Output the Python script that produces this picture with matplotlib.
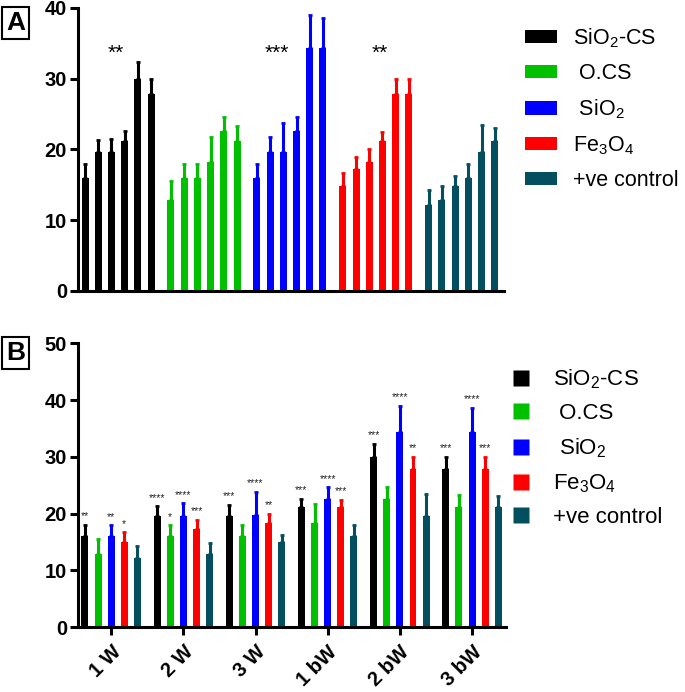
"""Two-panel grouped bar chart: per-material bars (A) and per-week groups (B)."""

import matplotlib

matplotlib.use("Agg")
import matplotlib.pyplot as plt
import numpy as np
from matplotlib.lines import Line2D
from matplotlib.patches import Patch

plt.rcParams["font.family"] = ["Liberation Sans", "DejaVu Sans"]
plt.rcParams["mathtext.default"] = "regular"

groups = ["1 W", "2 W", "3 W", "1 bW", "2 bW", "3 bW"]
series = ["SiO$_2$-CS", " O.CS", " SiO$_2$", "Fe$_3$O$_4$", "+ve control"]
colors = ["#000000", "#00c000", "#0000ff", "#ff0000", "#034e5f"]

sio2_cs_mean = [16.0, 19.6, 19.6, 21.2, 29.9, 27.9]
sio2_cs_err = [2.0, 1.7, 1.9, 1.4, 2.4, 2.1]
ocs_mean = [12.9, 16.0, 16.0, 18.3, 22.6, 21.2]
ocs_err = [2.6, 1.9, 2.0, 3.4, 2.0, 2.1]
sio2_mean = [16.0, 19.6, 19.7, 22.6, 34.3, 34.3]
sio2_err = [1.9, 2.2, 4.1, 2.0, 4.7, 4.3]
fe3o4_mean = [14.9, 17.2, 18.3, 21.2, 27.9, 27.9]
fe3o4_err = [1.8, 1.7, 1.7, 1.2, 2.1, 2.1]
ctrl_mean = [12.2, 12.9, 14.9, 16.0, 19.6, 21.2]
ctrl_err = [2.1, 1.9, 1.4, 2.0, 3.9, 1.9]

means = [sio2_cs_mean, ocs_mean, sio2_mean, fe3o4_mean, ctrl_mean]
errs = [sio2_cs_err, ocs_err, sio2_err, fe3o4_err, ctrl_err]

# significance marks in panel B, one list per series (per week group)
stars_b = [
    ["**", "****", "***", "***", "***", "***"],
    ["", "*", "", "", "", ""],
    ["**", "****", "****", "****", "****", "****"],
    ["*", "***", "**", "***", "**", "***"],
    ["", "", "", "", "", ""],
]
# significance marks in panel A: (series index, x offset within group, text)
stars_a = [(0, 2.3, "**"), (2, 1.5, "***"), (3, 2.8, "**")]

BAR_W = 0.53
EB = dict(elinewidth=2.2, capsize=1.5, capthick=2.0)


def style_axis(ax, ymax, step):
    for side in ("top", "right"):
        ax.spines[side].set_visible(False)
    for side in ("left", "bottom"):
        ax.spines[side].set_linewidth(2.2)
    ax.set_ylim(0, ymax)
    ax.set_yticks(np.arange(0, ymax + 1, step))
    ax.tick_params(axis="y", length=6, width=2.2, pad=2, labelsize=14.5)
    for lab in ax.get_yticklabels():
        lab.set_fontweight("bold")


fig = plt.figure(figsize=(6.85, 6.92), dpi=100)

# ---- panel A: bars grouped by material ----
ax_a = fig.add_axes([0.1139, 0.5795, 0.622, 0.409])
for s, (m, e) in enumerate(zip(means, errs)):
    x = s * 6.5 + np.arange(len(groups))
    ax_a.bar(x, m, width=BAR_W, color=colors[s], linewidth=0)
    ax_a.errorbar(x, m, yerr=[np.zeros(len(e)), e], fmt="none", ecolor=colors[s], **EB)
for s, off, txt in stars_a:
    ax_a.text(s * 6.5 + off, 33.6, txt, ha="center", va="center", fontsize=15)
ax_a.set_xlim(-0.53, 31.7)
ax_a.set_xticks([])
style_axis(ax_a, 40, 10)

handles_a = [Patch(facecolor=c, edgecolor="none", label=l) for c, l in zip(colors, series)]
ax_a.legend(
    handles=handles_a, loc="upper left", bbox_to_anchor=(0.766, 0.962),
    bbox_transform=fig.transFigure, frameon=False, fontsize=15.5, borderpad=0,
    borderaxespad=0, handlelength=1.49, handleheight=0.56, handletextpad=0.74,
    labelspacing=0.62,
)

# ---- panel B: bars grouped by week ----
ax_b = fig.add_axes([0.1139, 0.0939, 0.625, 0.410])
for s, (m, e) in enumerate(zip(means, errs)):
    x = np.arange(len(groups)) * 5.5 + s
    ax_b.bar(x, m, width=BAR_W, color=colors[s], linewidth=0)
    ax_b.errorbar(x, m, yerr=[np.zeros(len(e)), e], fmt="none", ecolor=colors[s], **EB)
    for xi, top, txt in zip(x, np.add(m, e), stars_b[s]):
        if txt:
            ax_b.annotate(txt, (xi, top), xytext=(0, 2.5), textcoords="offset points",
                          ha="center", va="bottom", fontsize=7.5, color="#222222")
ax_b.set_xlim(-0.53, 32.1)
ax_b.set_xticks(np.arange(len(groups)) * 5.5 + 2)
ax_b.set_xticklabels(groups, rotation=45, ha="right", rotation_mode="anchor",
                     fontsize=14.5, fontweight="bold")
ax_b.tick_params(axis="x", length=6, width=2.2, pad=5)
style_axis(ax_b, 50, 10)

handles_b = [Line2D([], [], marker="s", linestyle="none", markersize=11,
                    markerfacecolor=c, markeredgecolor="none", label=l)
             for c, l in zip(colors, series)]
ax_b.legend(
    handles=handles_b, loc="upper left", bbox_to_anchor=(0.749, 0.469),
    bbox_transform=fig.transFigure, frameon=False, fontsize=16, borderpad=0,
    borderaxespad=0, handlelength=0.72, handletextpad=1.06, labelspacing=0.55,
)

# panel letters
for y, letter in ((0.967, "A"), (0.49, "B")):
    fig.text(0.023, y, letter, ha="center", va="center", fontsize=19, fontweight="bold",
             bbox=dict(boxstyle="square,pad=0.15", facecolor="white", edgecolor="black", lw=1.5))

fig.savefig("out.png", dpi=100)
